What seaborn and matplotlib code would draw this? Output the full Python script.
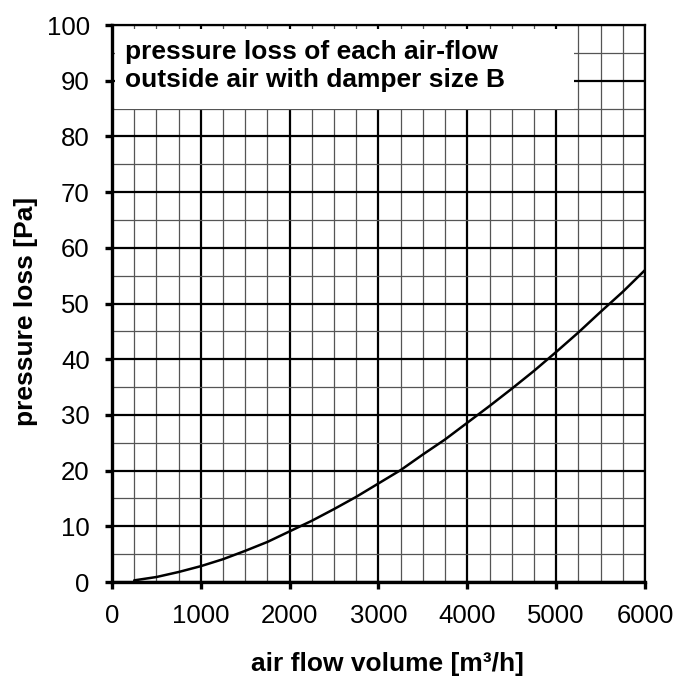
import matplotlib
matplotlib.use("Agg")
import matplotlib.pyplot as plt
from matplotlib.patches import Rectangle
from matplotlib.ticker import MultipleLocator
import pandas as pd
import seaborn as sns

# ── Data ──────────────────────────────────────────────────
air_flow = [250, 500, 750, 1000, 1250, 1500, 1750, 2000, 2250, 2500, 2750, 3000,
            3250, 3500, 3750, 4000, 4250, 4500, 4750, 5000, 5250, 5500, 5750, 6000]
pressure_loss = [0.3, 0.9, 1.8, 2.85, 4.1, 5.6, 7.2, 9.1, 11.0, 13.1, 15.3, 17.7,
                 20.1, 22.9, 25.6, 28.6, 31.6, 34.7, 37.9, 41.3, 44.8, 48.5, 52.1, 56.0]
x_ticks = [0, 1000, 2000, 3000, 4000, 5000, 6000]
y_ticks = [0, 10, 20, 30, 40, 50, 60, 70, 80, 90, 100]
title_lines = ["pressure loss of each air-flow", "outside air with damper size B"]

sns.set_theme(style="white")
plt.rcParams["font.family"] = ["Liberation Sans", "DejaVu Sans"]
plt.rcParams["text.color"] = "black"
plt.rcParams["axes.labelcolor"] = "black"
plt.rcParams["xtick.color"] = "black"
plt.rcParams["ytick.color"] = "black"

df = pd.DataFrame({"air_flow": air_flow, "pressure_loss": pressure_loss})

fig = plt.figure(figsize=(6.77, 6.76), dpi=100)
ax = fig.add_axes([0.1654, 0.139, 0.7873, 0.824])

sns.lineplot(data=df, x="air_flow", y="pressure_loss", color="black",
             linewidth=1.8, ax=ax, zorder=4)

ax.set_xlim(0, 6000)
ax.set_ylim(0, 100)
ax.set_xticks(x_ticks)
ax.set_yticks(y_ticks)
ax.xaxis.set_minor_locator(MultipleLocator(250))
ax.yaxis.set_minor_locator(MultipleLocator(5))

ax.set_axisbelow(True)
ax.grid(which="major", color="black", linewidth=1.6)
ax.grid(which="minor", color="#555555", linewidth=0.9)

# white box for the caption
ax.add_patch(Rectangle((30, 85), 5170, 14.2, facecolor="white",
                       edgecolor="none", zorder=2))
ax.text(150, 95.2, title_lines[0], fontsize=19, fontweight="bold",
        va="center", ha="left", zorder=5)
ax.text(150, 90.2, title_lines[1], fontsize=19, fontweight="bold",
        va="center", ha="left", zorder=5)

for side in ["left", "bottom"]:
    ax.spines[side].set_linewidth(2.4)
for side in ["top", "right"]:
    ax.spines[side].set_linewidth(1.6)
for s in ax.spines.values():
    s.set_color("black")
    s.set_zorder(6)

ax.tick_params(which="major", direction="out", length=5, width=2.4,
               labelsize=18.5, pad=11, color="black", left=True, bottom=True)
ax.tick_params(which="minor", length=0)

ax.set_xlabel("air flow volume [m³/h]", fontsize=19, fontweight="bold", labelpad=17)
ax.set_ylabel("pressure loss [Pa]", fontsize=19, fontweight="bold", labelpad=6)
ax.xaxis.label.set_x(0.516)
ax.yaxis.label.set_y(0.486)

fig.savefig("out.png", dpi=100)
